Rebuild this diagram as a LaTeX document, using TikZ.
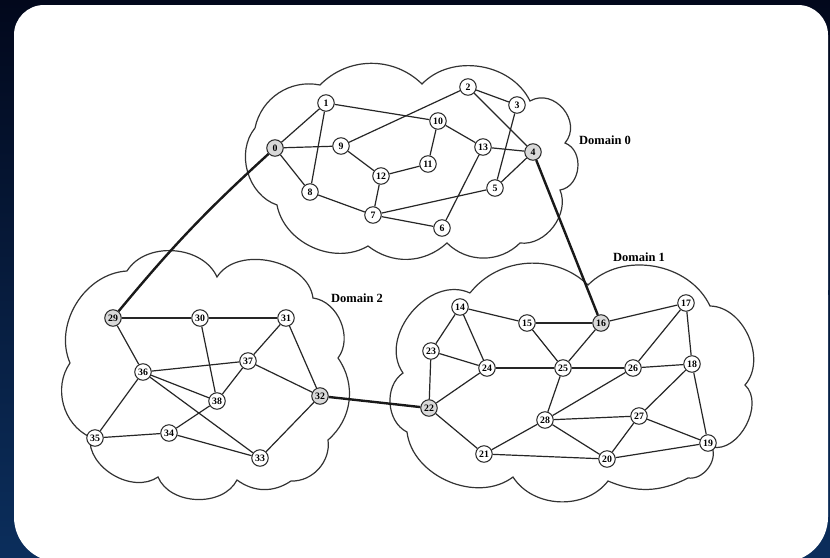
\documentclass[tikz,border=0pt]{standalone}
\usepackage{fontspec}
\setmainfont{Liberation Serif}
\begin{document}
\begin{tikzpicture}[x=1pt,y=-1pt,
  rn/.style={circle, draw=black!85, line width=1pt, fill=white, minimum size=16.5pt, inner sep=0pt, font=\bfseries\fontsize{9.8}{10}\selectfont},
  gw/.style={rn, fill=black!15},
  ln/.style={line width=1.2pt, draw=black!85},
  il/.style={line width=2.4pt, draw=black!90},
  cl/.style={line width=1.2pt, draw=black!80},
  dl/.style={font=\bfseries\fontsize{12.5}{13}\selectfont}]
\useasboundingbox (0,0) rectangle (830,557);
% background
\shade[top color={rgb,255:red,2;green,8;blue,28}, bottom color={rgb,255:red,11;green,46;blue,92}] (0,0) rectangle (830,557);
\fill[white, rounded corners=30pt] (14,5) rectangle (828,320);
\fill[white, rounded corners=45pt] (14,250) rectangle (828,562);
% clouds
\draw[cl] (255,128) to[bend left=45] (320,85) to[bend left=45] (422,84)
  to[bend left=55] (530,101) to[bend left=80, looseness=1.3] (565,143)
  to[bend left=75, looseness=1.15] (560,190) to[bend left=60] (520,243)
  to[bend left=45] (447,243) to[bend left=40] (368,246)
  to[bend left=55] (277,205) to[bend left=55] (255,128);
\draw[cl] (470,293) to[bend left=48] (588,285) to[bend left=55] (710,306)
  to[bend left=65] (745,385) to[bend left=75] (712,447)
  to[bend left=60] (688,478) to[bend left=25] (608,481)
  to[bend left=55] (513,477) to[bend left=60] (407,432)
  to[bend left=60] (403,373) to[bend left=75, looseness=1.1] (470,293);
\draw[cl] (127,271) to[bend left=62] (217,277) to[bend left=70] (313,298)
  to[bend left=60] (338,358) to[bend left=42] (328,440)
  to[bend left=50] (291,481) to[bend left=35] (237,480)
  to[bend left=65] (158,477) to[bend left=65] (90,437)
  to[bend left=50] (70,363) to[bend left=55] (127,271);
% labels
\node[dl] (d0) at (605,140) {Domain 0};
\node[dl] (d1) at (639,257) {Domain 1};
\node[dl] (d2) at (357,298) {Domain 2};
% domain 0 nodes
\node[gw] (n0) at (275,148) {0};
\node[rn] (n1) at (326,103) {1};
\node[rn] (n2) at (468,87) {2};
\node[rn] (n3) at (517,105) {3};
\node[gw] (n4) at (533,152) {4};
\node[rn] (n5) at (495,188) {5};
\node[rn] (n6) at (442,228) {6};
\node[rn] (n7) at (373,215) {7};
\node[rn] (n8) at (310,192) {8};
\node[rn] (n9) at (341,146) {9};
\node[rn] (n10) at (438,121) {10};
\node[rn] (n11) at (428,164) {11};
\node[rn] (n12) at (381,176) {12};
\node[rn] (n13) at (483,147) {13};
% domain 1 nodes
\node[rn] (n14) at (460,307) {14};
\node[rn] (n15) at (527,323) {15};
\node[gw] (n16) at (601,323) {16};
\node[rn] (n17) at (686,303) {17};
\node[rn] (n18) at (692,364) {18};
\node[rn] (n19) at (708,443) {19};
\node[rn] (n20) at (607,459) {20};
\node[rn] (n21) at (484,454) {21};
\node[gw] (n22) at (429,408) {22};
\node[rn] (n23) at (431,351) {23};
\node[rn] (n24) at (487,368) {24};
\node[rn] (n25) at (563,368) {25};
\node[rn] (n26) at (633,368) {26};
\node[rn] (n27) at (639,416) {27};
\node[rn] (n28) at (545,420) {28};
% domain 2 nodes
\node[gw] (n29) at (113,318) {29};
\node[rn] (n30) at (200,318) {30};
\node[rn] (n31) at (286,318) {31};
\node[gw] (n32) at (320,396) {32};
\node[rn] (n33) at (260,458) {33};
\node[rn] (n34) at (169,433) {34};
\node[rn] (n35) at (95,438) {35};
\node[rn] (n36) at (143,372) {36};
\node[rn] (n37) at (248,361) {37};
\node[rn] (n38) at (217,401) {38};
% domain 0 edges
\foreach \a/\b in {0/1,0/9,0/8,1/8,1/10,9/2,9/12,10/11,10/13,11/12,12/7,8/7,7/5,7/6,6/13,13/4,2/3,2/4,3/5,5/4}
  \draw[ln] (n\a) -- (n\b);
% domain 1 edges
\foreach \a/\b in {14/15,14/23,14/24,15/16,15/25,16/25,16/17,17/26,17/18,23/24,23/22,24/22,24/25,25/26,26/18,25/28,28/26,28/27,28/21,28/20,22/21,21/20,20/27,20/19,27/18,27/19,18/19}
  \draw[ln] (n\a) -- (n\b);
% domain 2 edges
\foreach \a/\b in {29/30,30/31,29/36,30/38,31/37,31/32,36/37,36/38,36/33,36/35,37/38,37/32,38/34,35/34,34/33,33/32}
  \draw[ln] (n\a) -- (n\b);
% inter-domain links
\draw[il] (n29) to[bend left=4] (n0);
\draw[il] (n4) -- (n16);
\draw[il] (n32) -- (n22);
\end{tikzpicture}
\end{document}
